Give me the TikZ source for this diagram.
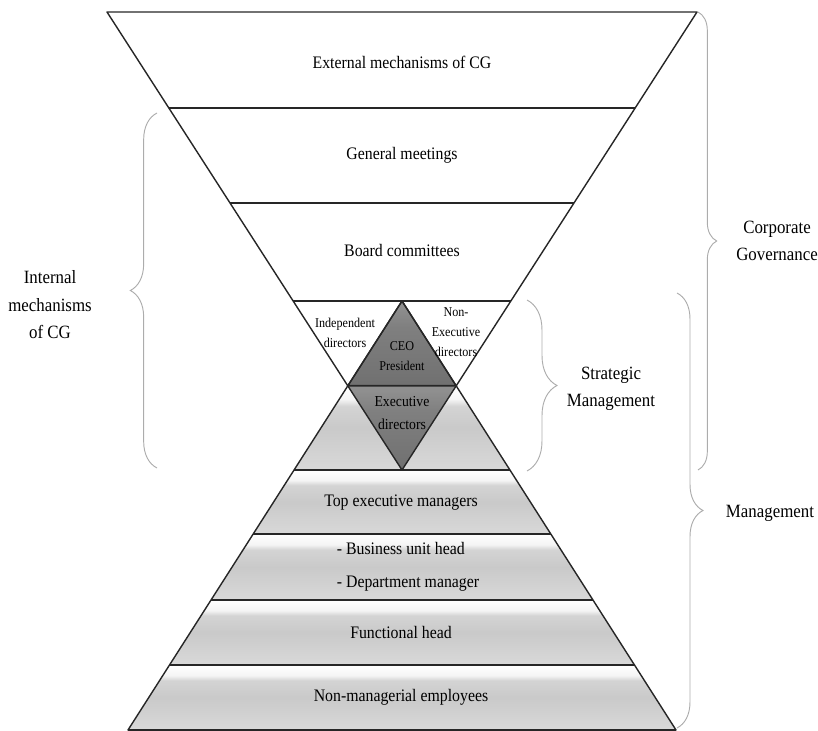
\documentclass[tikz,border=0pt]{standalone}
\usepackage{fontspec}
\setmainfont{Liberation Serif}[FakeStretch=0.9]
\usetikzlibrary{decorations.pathreplacing}

% light grey bevel used for the management layers
\pgfdeclareverticalshading{bandshade}{100bp}{%
  color(0bp)=(black!15); color(25bp)=(black!15); color(50bp)=(black!21);
  color(63bp)=(black!17); color(67bp)=(black!4); color(75bp)=(white); color(100bp)=(white)}
% dark grey for the CEO / executive core
\pgfdeclareverticalshading{darkshade}{100bp}{%
  color(0bp)=(black!56); color(25bp)=(black!56); color(60bp)=(black!50);
  color(72bp)=(black!44); color(75bp)=(black!44); color(100bp)=(black!44)}

\tikzset{
  outline/.style={draw=black!85, line width=1.2pt, line join=round},
  band/.style={shading=bandshade},
  core/.style={shading=darkshade},
  divider/.style={draw=black!85, line width=1.5pt},
  lbl/.style={font=\fontsize{15}{22}\selectfont, align=center, inner sep=0pt},
  sidelbl/.style={font=\fontsize{16}{23.5}\selectfont, align=center, inner sep=0pt},
  smalllbl/.style={font=\fontsize{11.5}{17}\selectfont, align=center, inner sep=0pt},
  corelbl/.style={font=\fontsize{13}{19.5}\selectfont, align=center, inner sep=0pt},
  bracket/.style={draw=gray!65, line width=0.8pt,
    decorate, decoration={brace, amplitude=#1}},
}

\begin{document}
\begin{tikzpicture}[x=0.3mm, y=-0.3mm]
\useasboundingbox (0,0) rectangle (818,731);

% corner points of the inverted triangle (governance) and the pyramid (management)
\coordinate (iTL) at (107,12);
\coordinate (iTR) at (697,12);
\coordinate (iA)  at (402,470);
\coordinate (pA)  at (402,301);
\coordinate (pBL) at (128,730);
\coordinate (pBR) at (676,730);
\coordinate (xL) at (intersection of iTL--iA and pA--pBL);
\coordinate (xR) at (intersection of iTR--iA and pA--pBR);

% management layers
\path[band] (294.06,470) -- (509.94,470) -- (550.8,534) -- (253.2,534) -- cycle;
\path[band] (253.2,534) -- (550.8,534) -- (593.0,600) -- (211.0,600) -- cycle;
\path[band] (211.0,600) -- (593.0,600) -- (634.5,665) -- (169.5,665) -- cycle;
\path[band] (169.5,665) -- (634.5,665) -- (676,730) -- (128,730) -- cycle;

% side pieces of the pyramid top below the overlap
\path[band] (xL) -- (iA) -- (294.06,470) -- cycle;
\path[band] (xR) -- (509.94,470) -- (iA) -- cycle;

% dark core: CEO / President above, executive directors below
\path[core] (pA) -- (xR) -- (xL) -- cycle;
\path[core] (xL) -- (xR) -- (iA) -- cycle;
\draw[divider] (xL) -- (xR);

% inverted triangle with its levels
\draw[outline] (iTL) -- (iTR) -- (iA) -- cycle;
\draw[outline] (168.8,108) -- (635.2,108);
\draw[outline] (230.0,203) -- (574.0,203);
\draw[outline] (293.1,301) -- (510.9,301);

% pyramid with its levels
\draw[outline] (pA) -- (pBR) -- (pBL) -- cycle;
\draw[divider] (294.06,470) -- (509.94,470);
\draw[divider] (253.2,534) -- (550.8,534);
\draw[divider] (211.0,600) -- (593.0,600);
\draw[divider] (169.5,665) -- (634.5,665);
\draw[divider] (128,730) -- (676,730);
\draw[outline] (pA) -- (xL) (pA) -- (xR);

% level labels
\node[lbl] (ext)   at (402,62)  {External mechanisms of CG};
\node[lbl] (gm)    at (402,155) {General meetings};
\node[lbl] (board) at (402,250) {Board committees};
\node[smalllbl] (indep)  at (345,333) {Independent\\directors};
\node[smalllbl] (nonexe) at (456,332) {Non-\\Executive\\directors};
\node[smalllbl] (ceo)    at (402,356) {CEO\\President};
\node[corelbl]  (exec)   at (402,413) {Executive\\directors};
\node[lbl] (top)   at (401,503) {Top executive managers};
\node[lbl, align=left, font=\fontsize{15}{28}\selectfont] (bu) at (408,567)
  {- Business unit head\\- Department manager};
\node[lbl] (func)  at (401,632) {Functional head};
\node[lbl] (nonm)  at (401,697) {Non-managerial employees};

% brackets and their captions
\coordinate (inB) at (157,468);  \coordinate (inT) at (157,113);
\coordinate (cgT) at (698,12);   \coordinate (cgB) at (698,470);
\coordinate (smT) at (527,300);  \coordinate (smB) at (527,471);
\coordinate (mgT) at (677,293);  \coordinate (mgB) at (677,728);
\draw[bracket=8mm]   (inB) -- (inT);
\draw[bracket=5.6mm] (cgT) -- (cgB);
\draw[bracket=9mm]   (smT) -- (smB);
\draw[bracket=7.8mm] (mgT) -- (mgB);

\node[sidelbl] (internal)  at (50,305)  {Internal\\mechanisms\\of CG};
\node[sidelbl] (corpgov)   at (777,241) {Corporate\\Governance};
\node[sidelbl] (strategic) at (611,389) {Strategic\\Management};
\node[sidelbl] (mgmt)      at (770,513) {Management};
\end{tikzpicture}
\end{document}
